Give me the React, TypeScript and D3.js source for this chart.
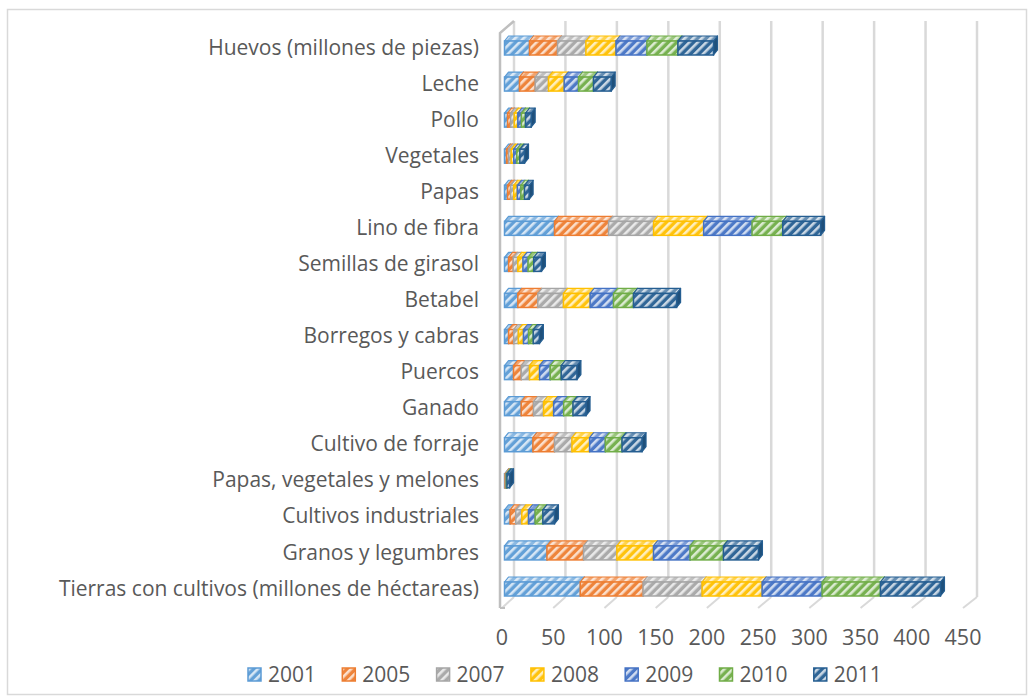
import React from "react";
import * as d3 from "d3";

const categories = [
  "Huevos (millones de piezas)",
  "Leche",
  "Pollo",
  "Vegetales",
  "Papas",
  "Lino de fibra",
  "Semillas de girasol",
  "Betabel",
  "Borregos y cabras",
  "Puercos",
  "Ganado",
  "Cultivo de forraje",
  "Papas, vegetales y melones",
  "Cultivos industriales",
  "Granos y legumbres",
  "Tierras con cultivos (millones de héctareas)",
];

const years = ["2001", "2005", "2007", "2008", "2009", "2010", "2011"];

const v2001 = [24.4, 14.6, 3, 2, 3, 48.8, 4, 13, 4, 8.8, 16.3, 27.7, 0.4, 5.5, 41.4, 73.9];
const v2005 = [27.3, 15.3, 3, 2, 3, 52.7, 4.5, 19.5, 5, 7.5, 12, 21.1, 0.4, 5.5, 35.7, 61.2];
const v2007 = [27.7, 13, 3.5, 2.5, 3, 43.9, 4.5, 25, 4.5, 8.1, 9.8, 17, 0.4, 5.9, 32.5, 57.6];
const v2008 = [29.3, 15.3, 3.5, 2.5, 3.5, 48.8, 5, 26, 5, 9.8, 9.8, 17.2, 0.4, 6.5, 35.7, 58.5];
const v2009 = [30.2, 14, 3.5, 3, 3.5, 47.2, 5, 22.8, 5, 10.4, 9.8, 15.3, 0.4, 6.5, 35.7, 58.5];
const v2010 = [30.2, 14.6, 4, 3, 3.5, 29.9, 5.5, 19.5, 4.5, 10.7, 9.1, 16.3, 0.4, 7.5, 32.5, 56.9];
const v2011 = [34.7, 17.2, 5.5, 4.5, 4.5, 36.9, 7.5, 42, 6, 15.3, 12.7, 19.5, 2.5, 11.3, 34.1, 58.5];

const seriesValues = [v2001, v2005, v2007, v2008, v2009, v2010, v2011];
const colors = ["#5B9BD5", "#ED7D31", "#A5A5A5", "#FFC000", "#4472C4", "#70AD47", "#255E91"];
const ticks = [0, 50, 100, 150, 200, 250, 300, 350, 400, 450];

const FONT = "'Open Sans', 'DejaVu Sans', sans-serif";
const TEXT = "#595959";
const GRID = "#d9d9d9";

export default function App() {
  const xFront = d3.scaleLinear().domain([0, 450]).range([502, 963]);
  const xBack = d3.scaleLinear().domain([0, 450]).range([514, 977]);
  const xBar = d3.scaleLinear().domain([0, 450]).range([504.5, 966]);
  const y = d3.scalePoint<string>().domain(categories).range([48, 589]);

  const wallTop = 21;
  const wallBottom = 597;
  const floorFront = 608;
  const barH = 14;
  const dx = 4;
  const dy = -5;

  const stacked = categories.map((c, i) => {
    let acc = 0;
    return seriesValues.map((vals, s) => {
      const x0 = acc;
      acc += vals[i];
      return { s, x0, x1: acc };
    });
  });

  const light = (c: string, k: number) => d3.interpolateRgb(c, "#ffffff")(k);
  const dark = (c: string, k: number) => d3.interpolateRgb(c, "#000000")(k);

  return (
    <svg width={1030} height={697} style={{ position: "absolute", left: 0, top: 0, background: "#fff" }}>
      <defs>
        {colors.map((c, s) => (
          <React.Fragment key={s}>
            <pattern id={`pf${s}`} patternUnits="userSpaceOnUse" width={6} height={6} patternTransform="rotate(45)">
              <rect width={6} height={6} fill={light(c, 0.05)} />
              <rect x={0} width={2.6} height={6} fill={light(c, 0.75)} />
            </pattern>
            <pattern id={`pt${s}`} patternUnits="userSpaceOnUse" width={6} height={6} patternTransform="rotate(45)">
              <rect width={6} height={6} fill={light(c, 0.3)} />
              <rect x={0} width={2.6} height={6} fill={light(c, 0.8)} />
            </pattern>
          </React.Fragment>
        ))}
      </defs>

      <rect x={7.5} y={9.5} width={1019} height={685} fill="none" stroke={GRID} strokeWidth={1.5} />

      {ticks.map((t) => (
        <line key={`g${t}`} x1={xBack(t)} x2={xBack(t)} y1={wallTop} y2={wallBottom} stroke={GRID} strokeWidth={2.5} />
      ))}
      {ticks.map((t) => (
        <line key={`f${t}`} x1={xFront(t)} x2={xBack(t)} y1={floorFront} y2={wallBottom} stroke={GRID} strokeWidth={2} />
      ))}
      <path
        d={`M${xFront(0) - 2},${floorFront} L${xFront(0) - 2},${wallTop + 12} L${xBack(0)},${wallTop}`}
        fill="none"
        stroke="#bfbfbf"
        strokeWidth={2.5}
      />
      <line x1={xFront(0) - 2} x2={xFront(0) + 3} y1={floorFront} y2={floorFront} stroke="#bfbfbf" strokeWidth={2} />

      {categories.map((c, i) => {
        const yc = y(c) as number;
        const top = yc - barH / 2;
        return (
          <g key={c}>
            {stacked[i].map(({ s, x0, x1 }) => {
              const a = xBar(x0);
              const b = xBar(x1);
              const col = colors[s];
              return (
                <g key={s}>
                  <path
                    d={`M${b},${top} L${b + dx},${top + dy} L${b + dx},${top + barH + dy} L${b},${top + barH} Z`}
                    fill={dark(col, 0.15)}
                    stroke={col}
                    strokeWidth={1.2}
                    strokeLinejoin="round"
                  />
                  <path
                    d={`M${a},${top} L${a + dx},${top + dy} L${b + dx},${top + dy} L${b},${top} Z`}
                    fill={`url(#pt${s})`}
                    stroke={col}
                    strokeWidth={1.2}
                    strokeLinejoin="round"
                  />
                  <rect
                    x={a}
                    y={top}
                    width={Math.max(0.1, b - a)}
                    height={barH}
                    fill={`url(#pf${s})`}
                    stroke={col}
                    strokeWidth={1.5}
                  />
                </g>
              );
            })}
          </g>
        );
      })}

      {categories.map((c) => (
        <text
          key={`l${c}`}
          x={479}
          y={(y(c) as number) + 1}
          textAnchor="end"
          dominantBaseline="middle"
          fontFamily={FONT}
          fontSize={21}
          fill={TEXT}
        >
          {c}
        </text>
      ))}

      {ticks.map((t) => (
        <text
          key={`t${t}`}
          x={xFront(t)}
          y={639}
          textAnchor="middle"
          dominantBaseline="middle"
          fontFamily={FONT}
          fontSize={21.5}
          fill={TEXT}
        >
          {t}
        </text>
      ))}

      {years.map((yr, s) => {
        const lx = 248 + s * 94.3;
        return (
          <g key={yr}>
            <rect x={lx} y={668} width={13} height={13} fill={`url(#pf${s})`} stroke={colors[s]} strokeWidth={1.5} />
            <text x={lx + 20} y={676} dominantBaseline="middle" fontFamily={FONT} fontSize={21} fill={TEXT}>
              {yr}
            </text>
          </g>
        );
      })}
    </svg>
  );
}
